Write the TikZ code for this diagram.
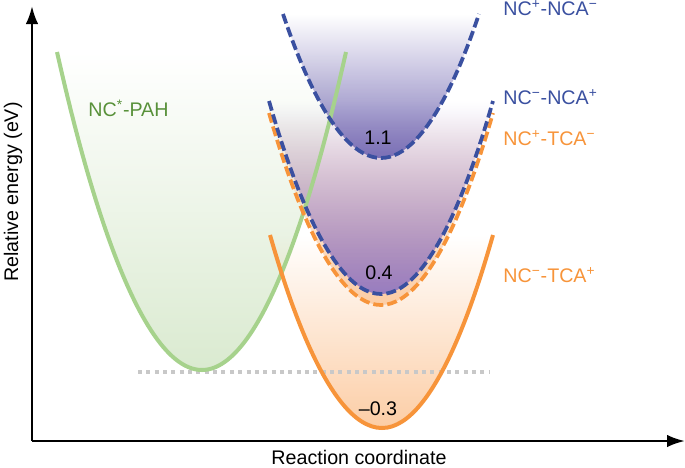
\documentclass[tikz,border=0pt]{standalone}
\usepackage{fontspec}
\setmainfont{Liberation Sans}
\usepackage{xcolor}
\usetikzlibrary{arrows.meta, fadings}
\definecolor{nablue}{RGB}{58, 80, 160}
\definecolor{taorange}{RGB}{247, 148, 58}
\definecolor{pahgreen}{RGB}{166, 210, 140}
\definecolor{pahtext}{RGB}{88, 145, 58}
\definecolor{upfill}{RGB}{122, 112, 182}
\definecolor{lowfill}{RGB}{152, 124, 192}
\definecolor{orfill}{RGB}{252, 205, 165}
\definecolor{grfill}{RGB}{218, 234, 208}
\definecolor{dotgray}{RGB}{200, 200, 200}
\tikzfading[name=fadeup, top color=transparent!100, bottom color=transparent!0]

\begin{document}
\begin{tikzpicture}[
    x=0.02cm, y=-0.02cm,
    curve/.style={line width=0.08cm},
    dashcurve/.style={line width=0.075cm, dash pattern=on 0.2cm off 0.08cm},
    axis/.style={-{Latex[length=0.36cm, width=0.25cm]}, line width=0.05cm},
    state/.style={font=\fontsize{11.2}{13}\selectfont, anchor=west, inner sep=0pt},
    value/.style={font=\fontsize{11.2}{13}\selectfont, inner sep=0pt}
]
\useasboundingbox (0,0) rectangle (685,467);

% Shaded wells
\fill[grfill, path fading=fadeup] (57,52) parabola bend (202,370) (346,52) -- cycle;
\fill[orfill, path fading=fadeup] (270,235) parabola bend (382,428) (493,235) -- cycle;
\fill[orfill, path fading=fadeup] (269,113) parabola bend (381,305) (493,113) -- cycle;
\fill[lowfill, path fading=fadeup] (269,101) parabola bend (381,294) (493,101) -- cycle;
\fill[upfill, path fading=fadeup] (283,14) parabola bend (381,158) (479,14) -- cycle;

% Reference level
\draw[dotgray, line width=0.08cm, dash pattern=on 0.08cm off 0.087cm] (138,372) -- (490,372);

% Potential curves
\draw[curve, pahgreen] (57,52) parabola bend (202,370) (346,52);
\draw[curve, taorange] (270,235) parabola bend (382,428) (493,235);
\draw[dashcurve, taorange] (269,113) parabola bend (381,305) (493,113);
\draw[dashcurve, nablue] (269,101) parabola bend (381,294) (493,101);
\draw[dashcurve, nablue] (283,14) parabola bend (381,158) (479,14);

% Axes
\coordinate (origin) at (32,441);
\coordinate (ytop) at (32,6);
\coordinate (xend) at (685,441);
\draw[axis] (origin) -- (ytop);
\draw[axis] (origin) -- (xend);
\node[value, rotate=90] (ylabel) at (13,192) {Relative energy (eV)};
\node[value] (xlabel) at (359,457) {Reaction coordinate};

% State labels
\node[state, text=pahtext] (pah) at (88,108) {NC\textsuperscript{*}-PAH};
\node[state, text=nablue] (ncanca) at (503,8) {NC\textsuperscript{+}-NCA\textsuperscript{−}};
\node[state, text=nablue] (ncbnca) at (503,97) {NC\textsuperscript{−}-NCA\textsuperscript{+}};
\node[state, text=taorange] (ncatca) at (503,138) {NC\textsuperscript{+}-TCA\textsuperscript{−}};
\node[state, text=taorange] (ncbtca) at (503,275) {NC\textsuperscript{−}-TCA\textsuperscript{+}};

% Energies
\node[value] (eup) at (378,138) {1.1};
\node[value] (emid) at (379,273) {0.4};
\node[value] (elow) at (378,409) {–0.3};
\end{tikzpicture}
\end{document}
